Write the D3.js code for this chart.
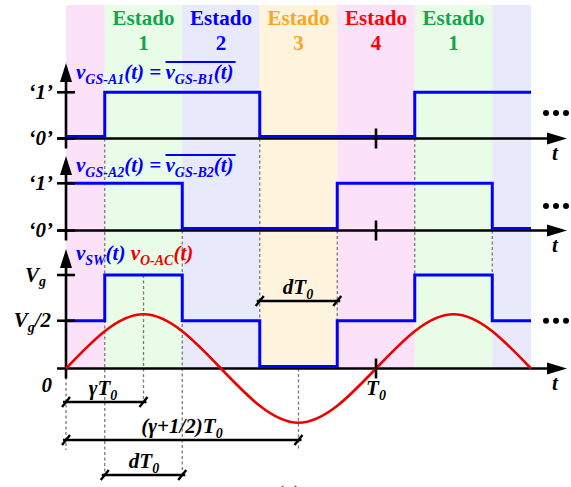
<!DOCTYPE html>
<html>
<head>
<meta charset="utf-8">
<script src="https://cdn.jsdelivr.net/npm/d3@7"></script>
<style>
  html, body { margin: 0; padding: 0; background: #fff; }
  text { font-family: "Liberation Serif", "Times New Roman", serif; white-space: pre; }
</style>
</head>
<body>
<div id="chart"></div>
<script>
// time in units of T0
const bandEdges = [0, 0.125, 0.375, 0.625, 0.875, 1.125, 1.375, 1.5];
const bandState = [4, 1, 2, 3, 4, 1, 2];
const bandTitle = ['', 'Estado', 'Estado', 'Estado', 'Estado', 'Estado', ''];
const bandNumber = ['', '1', '2', '3', '4', '1', ''];

// gate signals, step after each point
const gsA1 = [[0, 0], [0.125, 1], [0.625, 0], [1.125, 1], [1.5, 1]];
const gsA2 = [[0, 1], [0.375, 0], [0.875, 1], [1.375, 0], [1.5, 0]];
// switch node voltage in units of Vg
const vSW = [[0, 0.5], [0.125, 1], [0.375, 0.5], [0.625, 0], [0.875, 0.5], [1.125, 1], [1.375, 0.5], [1.5, 0.5]];
// output voltage, zeros and peaks (units of Vg)
const vOAC = [[0, 0], [0.25, 0.58], [0.5, 0], [0.75, -0.58], [1, 0], [1.25, 0.58], [1.5, 0]];

const guideT = [0, 0.125, 0.25, 0.375, 0.625, 0.75, 0.875, 1.125, 1.375];
const dimStart = [0, 0, 0.125, 0.625];
const dimEnd = [0.25, 0.75, 0.375, 0.875];

const W = 571, H = 487;
const stateColor = {1: '#12a54c', 2: '#0000ff', 3: '#fca51e', 4: '#ff0000'};
const bandFill = {1: '#e9fce8', 2: '#e9e9fc', 3: '#fef4dd', 4: '#fce2f9'};
const BLUE = '#0000ff', RED = '#ee0000';
const MAIN = 21, SUB = 14;

const svg = d3.select('#chart').append('svg')
  .attr('width', W).attr('height', H)
  .attr('font-family', '"Liberation Serif", "Times New Roman", serif')
  .attr('viewBox', '0 0 ' + W + ' ' + H);

const x = d3.scaleLinear().domain([0, 1]).range([66, 376]);

// panels: axis y, level y for value 1
const panels = [
  {axis: 138.5, top: 63, y: d3.scaleLinear().domain([0, 1]).range([136.5, 92.3])},
  {axis: 230.5, top: 156, y: d3.scaleLinear().domain([0, 1]).range([228.5, 183.3])},
  {axis: 368.5, top: 249, y: d3.scaleLinear().domain([0, 1]).range([366.5, 275])}
];
const ySine = d3.scaleLinear().domain([0, 1]).range([368.5, 275]);

// rich text with subscripts
function rich(g, px, py, parts, opt) {
  opt = opt || {};
  const t = g.append('text')
    .attr('x', px).attr('y', py)
    .attr('fill', opt.fill || '#000')
    .attr('font-weight', 'bold')
    .attr('font-style', opt.upright ? 'normal' : 'italic')
    .attr('text-anchor', opt.anchor || 'start');
  let shift = 0;
  parts.forEach(p => {
    const sub = p[1] === 's';
    const target = sub ? 4.5 : 0;
    t.append('tspan')
      .attr('dy', target - shift)
      .attr('font-size', sub ? SUB : (opt.size || MAIN))
      .text(p[0]);
    shift = target;
  });
  return t;
}

// state bands
const bands = svg.append('g');
bandState.forEach((s, i) => {
  bands.append('rect')
    .attr('x', x(bandEdges[i])).attr('y', 5)
    .attr('width', x(bandEdges[i + 1]) - x(bandEdges[i]))
    .attr('height', panels[2].axis - 5)
    .attr('fill', bandFill[s]);
  if (bandTitle[i]) {
    const cx = (x(bandEdges[i]) + x(bandEdges[i + 1])) / 2;
    bands.append('text').attr('x', cx).attr('y', 25)
      .attr('text-anchor', 'middle').attr('font-size', 21).attr('font-weight', 'bold')
      .attr('fill', stateColor[s]).text(bandTitle[i]);
    bands.append('text').attr('x', cx).attr('y', 50)
      .attr('text-anchor', 'middle').attr('font-size', 21).attr('font-weight', 'bold')
      .attr('fill', stateColor[s]).text(bandNumber[i]);
  }
});

// dashed guides
const guideSpan = {
  0: [377, 450], 0.125: [138.5, 478], 0.25: [275, 402], 0.375: [230.5, 478],
  0.625: [138.5, 321], 0.75: [368.5, 450], 0.875: [230.5, 321],
  1.125: [138.5, 275], 1.375: [230.5, 275]
};
guideT.forEach(t => {
  svg.append('line')
    .attr('x1', x(t)).attr('x2', x(t))
    .attr('y1', guideSpan[t][0]).attr('y2', guideSpan[t][1])
    .attr('stroke', '#7a7a7a').attr('stroke-width', 1.3)
    .attr('stroke-dasharray', '3,2.5');
});

// axes
panels.forEach(p => {
  const g = svg.append('g');
  g.append('line').attr('x1', 57).attr('x2', 552).attr('y1', p.axis).attr('y2', p.axis)
    .attr('stroke', '#000').attr('stroke-width', 2.6);
  g.append('path').attr('d', `M567,${p.axis} L547,${p.axis - 6} L547,${p.axis + 6} Z`).attr('fill', '#000');
  g.append('line').attr('x1', x(0)).attr('x2', x(0)).attr('y1', p.axis + 10).attr('y2', p.top + 15)
    .attr('stroke', '#000').attr('stroke-width', 2.6);
  g.append('path').attr('d', `M${x(0)},${p.top} L${x(0) - 6},${p.top + 19} L${x(0) + 6},${p.top + 19} Z`).attr('fill', '#000');
});

// output voltage
svg.append('path')
  .datum(vOAC)
  .attr('d', d3.line().x(d => x(d[0])).y(d => ySine(d[1])).curve(d3.curveNatural))
  .attr('fill', 'none').attr('stroke', RED).attr('stroke-width', 2.6);

// step signals
[[gsA1, 0], [gsA2, 1], [vSW, 2]].forEach(([data, k]) => {
  const yy = panels[k].y;
  svg.append('path')
    .datum(data)
    .attr('d', d3.line().x(d => x(d[0])).y(d => yy(d[1])).curve(d3.curveStepAfter))
    .attr('fill', 'none').attr('stroke', BLUE).attr('stroke-width', 3);
});

// level ticks
const levels = [[0, 1], [0, 0], [1, 1], [1, 0], [2, 1], [2, 0.5]];
levels.forEach(([k, v]) => {
  const yv = v === 0 ? panels[k].axis : panels[k].y(v);
  svg.append('line').attr('x1', 57).attr('x2', 75).attr('y1', yv).attr('y2', yv)
    .attr('stroke', '#000').attr('stroke-width', 2.6);
});
// T0 ticks
panels.forEach(p => {
  svg.append('line').attr('x1', x(1)).attr('x2', x(1))
    .attr('y1', p.axis - 10).attr('y2', p.axis + 10)
    .attr('stroke', '#000').attr('stroke-width', 2.6);
});

// level labels
const lab = svg.append('g');
rich(lab, 53, panels[0].y(1) + 6.5, [['\u20181\u2019']], {anchor: 'end'});
rich(lab, 53, panels[0].axis + 6, [['\u20180\u2019']], {anchor: 'end'});
rich(lab, 53, panels[1].y(1) + 6.5, [['\u20181\u2019']], {anchor: 'end'});
rich(lab, 53, panels[1].axis + 6, [['\u20180\u2019']], {anchor: 'end'});
rich(lab, 46, panels[2].y(1) + 6.5, [['V'], ['g', 's']], {anchor: 'end'});
rich(lab, 51, panels[2].y(0.5) + 6.5, [['V'], ['g', 's'], ['/2']], {anchor: 'end'});
rich(lab, 52, 392, [['0']], {anchor: 'end'});
rich(lab, x(1), 395, [['T'], ['0', 's']], {anchor: 'middle'});
panels.forEach(p => rich(lab, 555, p.axis + 21, [['t']], {anchor: 'middle'}));

// ellipses
[113, 206, panels[2].y(0.5)].forEach(cy => {
  [546, 556, 566].forEach(cx => {
    svg.append('circle').attr('cx', cx).attr('cy', cy).attr('r', 3).attr('fill', '#000');
  });
});

// signal names
function overlined(sub1, sub2, by) {
  const t1 = rich(svg, 76, by, [['v'], [sub1, 's'], ['(t) = ']], {fill: BLUE});
  const x2 = 76 + t1.node().getComputedTextLength() - 1;
  const t2 = rich(svg, x2, by, [['v'], [sub2, 's'], ['(t)']], {fill: BLUE});
  const len = t2.node().getComputedTextLength();
  svg.append('line').attr('x1', x2).attr('x2', x2 + len + 2)
    .attr('y1', by - 17).attr('y2', by - 17)
    .attr('stroke', BLUE).attr('stroke-width', 2);
}
overlined('GS-A1', 'GS-B1', 79);
overlined('GS-A2', 'GS-B2', 172);
const s1 = rich(svg, 76, 260, [['v'], ['SW', 's'], ['(t) ']], {fill: BLUE});
rich(svg, 76 + s1.node().getComputedTextLength(), 260, [['v'], ['O-AC', 's'], ['(t)']], {fill: RED});

// dimension arrows
const dimY = [402, 440, 475, 301];
const dimLabel = [
  [['\u03b3T'], ['0', 's']],
  [['(\u03b3+1/2)T'], ['0', 's']],
  [['dT'], ['0', 's']],
  [['dT'], ['0', 's']]
];
const dimLabelX = [103, 182, 144, 298];
dimStart.forEach((t0, i) => {
  const x0 = x(t0), x1 = x(dimEnd[i]), yy = dimY[i];
  const g = svg.append('g').attr('stroke', '#000').attr('stroke-width', 2.4);
  g.append('line').attr('x1', x0 - 3).attr('x2', x1 + 3).attr('y1', yy).attr('y2', yy);
  [x0, x1].forEach(xe => {
    g.append('line').attr('x1', xe - 4).attr('x2', xe + 4).attr('y1', yy + 5).attr('y2', yy - 5);
  });
  rich(svg, dimLabelX[i], yy - 7, dimLabel[i], {anchor: 'middle'});
});

// caption (cut by the frame, as in the source figure)
svg.append('text').attr('x', 289).attr('y', 500).attr('text-anchor', 'middle')
  .attr('font-size', 21).attr('fill', '#333').text('(a)');
</script>
</body>
</html>
